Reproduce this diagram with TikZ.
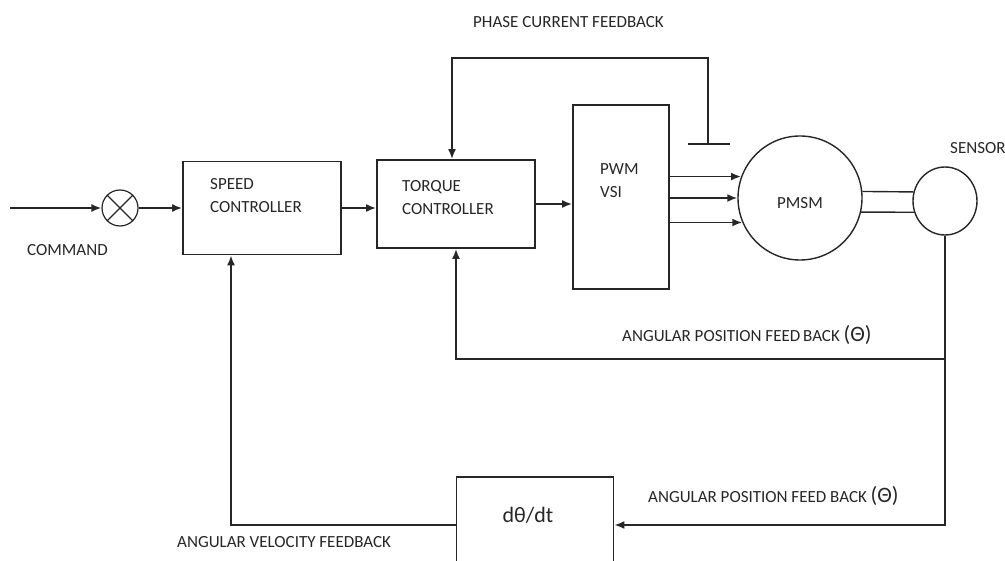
\documentclass[tikz,border=0pt]{standalone}
\usepackage{fontspec}
\setmainfont{Carlito}
\usepackage{tikz}
\usetikzlibrary{arrows.meta, shapes.geometric}

\tikzset{
  block/.style={draw=black!85, line width=1.8pt, rectangle, inner sep=0pt},
  wire/.style={draw=black!85, line width=1.8pt},
  arr/.style={draw=black!85, line width=1.8pt, -{Latex[length=10pt,width=8pt]}},
  txt/.style={text=black!85, inner sep=0pt, align=left, font=\fontsize{17}{23}\selectfont},
}

\begin{document}
\begin{tikzpicture}[x=1pt,y=-1pt]
\useasboundingbox (0,0) rectangle (1005,561);
\clip (0,0) rectangle (1005,561);
% forward path: command, summing point, controllers, inverter
\coordinate (cmd) at (10,208);
\node[block, circle, line width=1.2pt, minimum size=36pt] (sum) at (120,208) {};
\draw[wire, line width=1.2pt] (sum.45) -- (sum.225) (sum.135) -- (sum.315);
\node[block, minimum width=158pt, minimum height=93pt] (speed) at (262,208) {};
\node[block, minimum width=158pt, minimum height=88pt] (torque) at (456,204) {};
\node[block, minimum width=96pt, minimum height=184pt] (pwm) at (621,197) {};
% motor, sensor and differentiator
\node[block, circle, line width=1.4pt, minimum size=124pt,
  label={[txt, yshift=-5pt]center:PMSM}] (pmsm) at (800,198) {};
\node[block, ellipse, line width=1.4pt, minimum width=64pt, minimum height=68pt] (sensor) at (945,201) {};
\node[block, minimum width=157pt, minimum height=96pt] (diff) at (535,525) {};
\coordinate (ish) at (708,144);
\coordinate (pctop) at (708,58);
\coordinate (tap) at (945,359);
% connectors
\draw[arr] (cmd) -- (sum.west);
\draw[arr] (sum.east) -- (speed.west);
\draw[arr] (speed.east) -- (torque.west |- speed.east);
\draw[arr] (torque.east) -- (pwm.west |- torque.east);
\foreach \a in {160.22,180,203.78}
  \draw[arr] (pwm.east |- pmsm.\a) -- (pmsm.\a);
\draw[wire, line width=1.4pt] (pmsm.6) -- (sensor.164);
\draw[wire, line width=1.4pt] (pmsm.-13) -- (sensor.200);
% phase current feedback
\draw[wire] ([xshift=-20pt]ish) -- ([xshift=22pt]ish);
\draw[arr] (ish) -- (pctop) -| ([xshift=-4pt]torque.north);
% angular position and velocity feedback
\draw[arr] (sensor.south) -- (tap) -| (torque.south);
\draw[arr] (tap) |- (diff.east);
\draw[arr] (diff.west) -| ([xshift=-31pt]speed.south);
% texts
\node[txt, anchor=north west] (speedtxt) at (210,178) {SPEED\\CONTROLLER};
\node[txt, anchor=north west] (torquetxt) at (402,180) {TORQUE\\CONTROLLER};
\node[txt, anchor=north west] (pwmtxt) at (600,163) {PWM\\VSI};
\node[txt, anchor=north west] (sensortxt) at (950,142) {SENSOR};
\node[txt, anchor=base west] (cmdtxt) at (27,256) {COMMAND};
\node[txt, anchor=base west] (pctxt) at (473,28) {PHASE CURRENT FEEDBACK};
\node[txt, anchor=base west] (apf1) at (622,342) {ANGULAR POSITION FEED\,BACK {\fontsize{22}{22}\selectfont(Θ)}};
\node[txt, anchor=base west] (apf2) at (648,503) {ANGULAR POSITION FEED BACK {\fontsize{22}{22}\selectfont(Θ)}};
\node[txt, anchor=base west] (avf) at (177,547) {ANGULAR VELOCITY FEEDBACK};
\node[txt, anchor=base, font=\fontsize{22}{22}\selectfont] (difftxt) at (528,522) {dθ/dt};
\end{tikzpicture}
\end{document}
